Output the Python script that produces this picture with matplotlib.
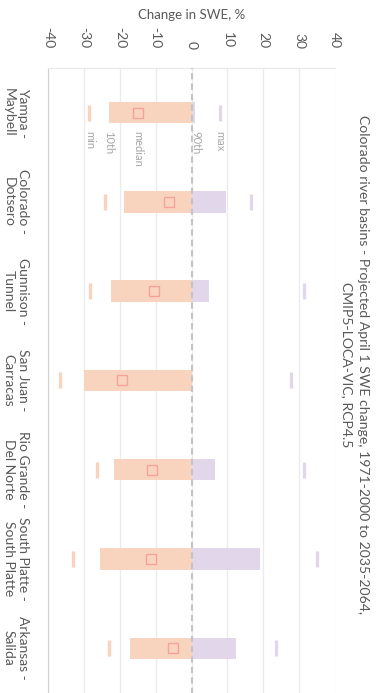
import numpy as np
import matplotlib
matplotlib.use("Agg")
import matplotlib.pyplot as plt

plt.rcParams['font.family'] = ['Lato', 'DejaVu Sans']

# basins (top to bottom in the picture)
basins = ["Yampa -\nMaybell", "Colorado -\nDotsero", "Gunnison -\nTunnel",
          "San Juan -\nCarracas", "Rio Grande -\nDel Norte",
          "South Platte -\nSouth Platte", "Arkansas -\nSalida"]

# change in SWE, %
p_min = [-28.5, -24.0, -28.3, -36.6, -26.3, -33.1, -23.1]
p10 = [-23.0, -18.9, -22.5, -30.0, -21.7, -25.5, -17.2]
median = [-15.0, -6.4, -10.4, -19.3, -11.0, -11.2, -5.2]
p90 = [1.1, 9.6, 4.8, 0.0, 6.5, 19.2, 12.3]
p_max = [7.9, 16.7, 31.3, 27.6, 31.4, 35.1, 23.5]

ticks = [-40, -30, -20, -10, 0, 10, 20, 30, 40]
stat_labels = ["min", "10th", "median", "90th", "max"]

orange = "#F8D3BD"
purple = "#E1D6EA"
txt = "#595959"

fig = plt.figure(figsize=(3.82, 6.93), dpi=100)
ax = fig.add_axes([48/382, (693-700)/693, 287/382, 632/693])

y = np.arange(len(basins))
h = 0.24
neg = np.minimum(p90, 0)
ax.barh(y, np.array(neg) - np.array(p10), left=p10, height=h, color=orange, zorder=2)
ax.barh(y, np.maximum(p90, 0), left=0, height=h, color=purple, zorder=2)
ax.plot(median, y, ls="none", marker="s", ms=6.5, mfc="none", mec="#F3A39C", mew=1.0, zorder=4)
ax.plot(p_min, y, ls="none", marker="|", ms=12, mew=2.4, color=orange, zorder=3)
ax.plot(p_max, y, ls="none", marker="|", ms=12, mew=2.4, color=purple, zorder=3)
ax.axvline(0, color="#C4C4C4", lw=1.5, ls=(0, (3, 2)), zorder=3)

# stat labels under the first basin
for v, lab in zip([p_min[0], p10[0], median[0], p90[0], p_max[0]], stat_labels):
    ax.text(v, 0.21, lab, rotation=-90, ha="center", va="top", fontsize=8, color="#A6A6A6")

ax.set_xlim(-40, 40)
ax.set_ylim(len(basins) - 0.5 + 0.08, -0.5)
ax.set_xticks(ticks)
ax.set_xticklabels([str(t) for t in ticks])
ax.xaxis.tick_top()
ax.tick_params(axis="x", length=0, pad=14, labelrotation=-90, labelsize=10, labelcolor=txt)
ax.set_yticks(y)
ax.set_yticklabels(basins, rotation=-90, va="center", ha="right", multialignment="center")
ax.tick_params(axis="y", length=0, pad=14, labelsize=10, labelcolor=txt)
ax.grid(axis="x", color="#EBEBEB", lw=1, zorder=0)
ax.set_axisbelow(True)
for s in ["right", "bottom"]:
    ax.spines[s].set_visible(False)
ax.spines["left"].set_color("#D0D0D0")
ax.spines["top"].set_color("#E8E8E8")

fig.text(192/382, 1 - 15/693, "Change in SWE, %", ha="center", va="center", fontsize=9.5, color=txt)
fig.text(355/382, 1 - 365/693,
         "Colorado river basins - Projected April 1 SWE change, 1971-2000 to 2035-2064,\nCMIP5-LOCA-VIC, RCP4.5",
         rotation=-90, ha="center", va="center", multialignment="center",
         fontsize=10.1, color=txt, linespacing=1.4)

fig.savefig("out.png", dpi=100)
